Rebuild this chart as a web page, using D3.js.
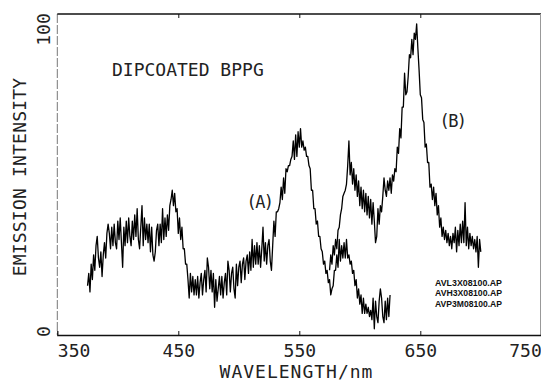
<!DOCTYPE html>
<html>
<head>
<meta charset="utf-8">
<script src="https://cdn.jsdelivr.net/npm/d3@7"></script>
<style>
  html, body { margin: 0; padding: 0; background: #fff; }
  svg { display: block; }
</style>
</head>
<body>
<svg id="chart" width="541" height="383"></svg>
<script>
/* ── DATA ── */
const X_TICKS = [350, 450, 550, 650, 750];
const X_INNER_TICKS = [450, 550, 650];
const Y_TICKS = [0, 100];
const LEGEND = ['AVL3X08100.AP', 'AVH3X08100.AP', 'AVP3M08100.AP'];

// spectrum (A): 1 nm steps from 375 nm
const A_START = 375;
const SERIES_A = [
  16,20,14,23,18,26,21,29,32,25,
  22,27,19,26,30,25,33,36,33,28,
  35,29,36,30,28,37,31,38,30,22,
  35,29,37,30,38,32,29,37,31,39,
  32,41,31,28,35,42,29,38,31,36,
  30,36,27,35,26,24,27,34,36,29,
  36,30,41,31,38,32,39,34,42,44,
  47,42,46,40,41,33,38,31,35,28,
  28,23,23,18,12,20,14,19,13,18,
  13,19,12,17,20,13,18,21,14,25,
  22,15,21,14,20,9,18,11,15,19,
  13,19,12,17,20,13,24,21,14,20,
  22,15,12,23,16,22,24,17,23,25,
  18,24,26,20,27,21,31,22,29,23,
  30,23,29,22,28,35,24,30,23,29,
  31,24,21,29,37,32,40,40,41,43,
  48,44,51,46,54,53,55,55,57,58,
  63,57,65,58,66,61,67,61,63,60,
  61,58,58,55,54,47,47,41,41,36,
  37,32,32,28,27,23,24,20,21,17,
  18,13,15,16,21,21,26,22,31,24,
  29,25,30,25,31,25,26,23,24,20,
  21,16,18,12,15,10,13,7,12,7,
  10,7,9,6,8,5,12,2,11,6,
  4,11,15,12,6,4,11,5,12,6,13
];

// spectrum (B): 1 nm steps from 575 nm
const B_START = 575;
const SERIES_B = [
  21,26,23,29,26,31,28,34,35,39,
  41,45,46,47,49,55,63,52,56,49,
  54,47,52,45,50,42,48,41,47,40,
  46,39,45,38,44,36,43,37,30,32,
  41,36,42,40,45,51,47,45,50,47,
  51,46,52,50,54,53,61,59,67,64,
  74,74,85,78,79,84,91,90,96,91,
  98,96,101,93,86,78,77,70,69,61,
  62,56,56,48,49,44,48,42,46,39,
  42,35,38,32,35,31,34,30,33,29,
  32,28,33,30,35,27,34,29,36,30,
  37,30,43,29,35,28,33,29,32,28,
  31,27,32,22,31,27
];

/* ── LAYOUT ── */
const LEFT = 57.3, RIGHT = 541.3, TOP = 14, BOTTOM = 335;
const FONT = "'DejaVu Sans Mono', monospace";
const INK = '#111';
const TEXT_INK = '#222';

const svg = d3.select('#chart');
const x = d3.scaleLinear().domain([350, 750]).range([LEFT, RIGHT]);
const y = d3.scaleLinear().domain([0, 100]).range([BOTTOM, 27]);

/* frame */
svg.append('line')
  .attr('x1', LEFT).attr('x2', LEFT).attr('y1', TOP).attr('y2', BOTTOM)
  .attr('stroke', '#777').attr('stroke-width', 1).attr('stroke-dasharray', '9 2');
svg.append('line')
  .attr('x1', LEFT).attr('x2', 541).attr('y1', TOP).attr('y2', TOP)
  .attr('stroke', INK).attr('stroke-width', 1.4);
svg.append('line')
  .attr('x1', 540.5).attr('x2', 540.5).attr('y1', TOP).attr('y2', BOTTOM)
  .attr('stroke', '#999').attr('stroke-width', 1);

/* bottom axis */
const xAxis = svg.append('g').attr('transform', `translate(0,${BOTTOM})`)
  .call(d3.axisBottom(x).tickValues(X_TICKS).tickSize(-4).tickPadding(9).tickFormat(d3.format('d')));
xAxis.select('.domain').attr('stroke', INK).attr('stroke-width', 1.3);
xAxis.selectAll('.tick line').attr('stroke', INK)
  .style('display', d => X_INNER_TICKS.includes(d) ? null : 'none');
xAxis.selectAll('.tick text')
  .style('font-family', FONT).style('font-size', '18px').attr('fill', TEXT_INK)
  .attr('text-anchor', (d, i) => i === 0 ? 'start' : (i === X_TICKS.length - 1 ? 'end' : 'middle'));

/* top ticks */
const xTop = svg.append('g').attr('transform', `translate(0,${TOP})`)
  .call(d3.axisTop(x).tickValues(X_INNER_TICKS).tickSize(-4).tickFormat(''));
xTop.select('.domain').remove();
xTop.selectAll('.tick line').attr('stroke', INK);

/* left axis labels (rotated) */
const yAxis = svg.append('g').attr('transform', `translate(${LEFT},0)`)
  .call(d3.axisLeft(y).tickValues(Y_TICKS).tickSize(0));
yAxis.select('.domain').remove();
yAxis.selectAll('.tick text')
  .attr('x', 0).attr('dy', null).attr('text-anchor', 'middle')
  .attr('transform', d => `translate(-7,${d === 0 ? -4 : 2}) rotate(-90)`)
  .style('font-family', FONT).style('font-size', '18px').attr('fill', TEXT_INK);

/* axis titles */
svg.append('text')
  .attr('x', (220 + 373) / 2).attr('y', 378).attr('text-anchor', 'middle')
  .style('font-family', FONT).style('font-size', '18px').style('letter-spacing', '1px')
  .attr('fill', TEXT_INK).text('WAVELENGTH/nm');
svg.append('text')
  .attr('transform', 'translate(26,177) rotate(-90)').attr('text-anchor', 'middle')
  .style('font-family', FONT).style('font-size', '18px').style('letter-spacing', '0.2px')
  .attr('fill', TEXT_INK).text('EMISSION INTENSITY');

/* annotations */
svg.append('text')
  .attr('x', 112).attr('y', 76)
  .style('font-family', FONT).style('font-size', '18px')
  .attr('fill', TEXT_INK).text('DIPCOATED BPPG');
svg.append('text')
  .attr('x', 259.5).attr('y', 208).attr('text-anchor', 'middle')
  .style('font-family', FONT).style('font-size', '17px').style('letter-spacing', '-1.5px')
  .attr('fill', TEXT_INK).text('(A)');
svg.append('text')
  .attr('x', 452.5).attr('y', 127).attr('text-anchor', 'middle')
  .style('font-family', FONT).style('font-size', '17px').style('letter-spacing', '-1.5px')
  .attr('fill', TEXT_INK).text('(B)');

svg.append('g').selectAll('text').data(LEGEND).join('text')
  .attr('x', 435).attr('y', (d, i) => 285.5 + i * 10.5)
  .attr('textLength', 67).attr('lengthAdjust', 'spacingAndGlyphs')
  .style('font-family', "'Liberation Sans', Arial, sans-serif")
  .style('font-size', '9px').style('font-weight', 'bold')
  .attr('fill', INK).text(d => d);

/* spectra */
function drawSeries(values, start) {
  const line = d3.line().x((d, i) => x(start + i)).y(d => y(d));
  svg.append('path')
    .attr('fill', 'none').attr('stroke', '#000')
    .attr('stroke-width', 1.3).attr('stroke-linejoin', 'round')
    .attr('d', line(values));
}
drawSeries(SERIES_A, A_START);
drawSeries(SERIES_B, B_START);
</script>
</body>
</html>
